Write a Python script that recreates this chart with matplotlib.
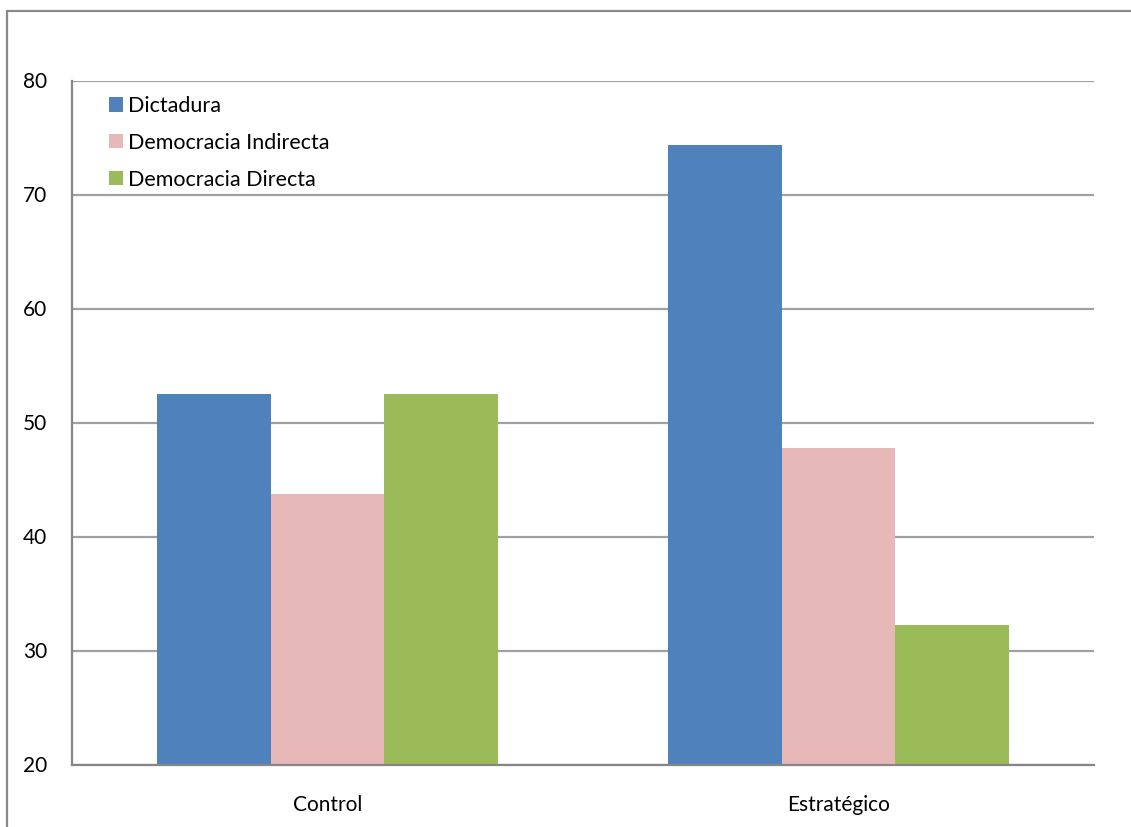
import matplotlib
matplotlib.use("Agg")
import matplotlib.pyplot as plt
from matplotlib.patches import Rectangle, Patch
import numpy as np

categories = ["Control", "Estratégico"]
series_names = ["Dictadura", "Democracia Indirecta", "Democracia Directa"]
dictadura = [52.5, 74.3]
dem_indirecta = [43.7, 47.8]
dem_directa = [52.5, 32.2]
yticks = [20, 30, 40, 50, 60, 70, 80]

colors = ["#4F81BD", "#E6B9B8", "#9BBB59"]
values = [dictadura, dem_indirecta, dem_directa]

plt.rcParams['font.family'] = ['Lato', 'DejaVu Sans']

W, H = 1131, 827
fig = plt.figure(figsize=(W / 100, H / 100), dpi=100)
ax = fig.add_axes([72 / W, 1 - 764.5 / H, (1094 - 72) / W, (764.5 - 80.5) / H])

x = np.arange(len(categories))
bw = 1 / 4.5
for i, (vals, c, name) in enumerate(zip(values, colors, series_names)):
    ax.bar(x + (i - 1) * bw, np.array(vals) - 20, bottom=20, width=bw,
           color=c, label=name, zorder=3, linewidth=0)

ax.set_xlim(-0.5, 1.5)
ax.set_ylim(20, 80)
ax.set_yticks(yticks)
ax.set_yticklabels([str(t) for t in yticks])
ax.set_xticks(x)
ax.set_xticklabels(categories)
ax.tick_params(axis='both', length=0, labelsize=15, colors='black')
ax.tick_params(axis='y', pad=18)
ax.tick_params(axis='x', pad=22)
ax.grid(axis='y', color='#A0A0A0', linewidth=1.6, zorder=0)
for s in ['top', 'right']:
    ax.spines[s].set_visible(False)
for s in ['left', 'bottom']:
    ax.spines[s].set_color('#868686')
    ax.spines[s].set_linewidth(1.6)
    ax.spines[s].set_zorder(4)

handles = [Patch(facecolor=c, edgecolor='none', label=n) for c, n in zip(colors, series_names)]
leg = ax.legend(handles=handles, loc='upper left', bbox_to_anchor=(0.028, 0.99),
                frameon=False, fontsize=15.5, handlelength=0.65, handleheight=0.65,
                handletextpad=0.22, labelspacing=0.78, borderaxespad=0)

# outer chart border
fig.patches.append(Rectangle((7 / W, -0.1), 2, 1 - 11 / H + 0.1, transform=fig.transFigure,
                             fill=False, edgecolor='#898989', linewidth=1.6))

fig.savefig("out.png", dpi=100)
